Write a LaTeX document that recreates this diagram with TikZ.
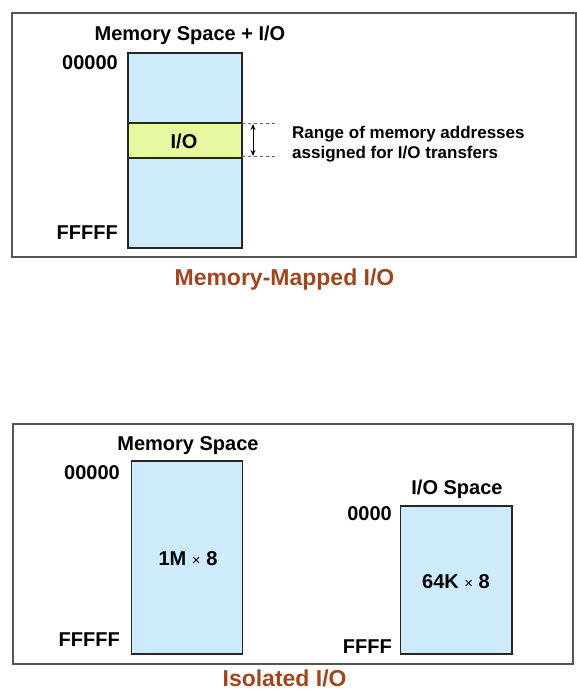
\documentclass[tikz,border=0pt]{standalone}
\usepackage{fontspec}
\setmainfont{Liberation Sans}
\usetikzlibrary{arrows.meta}
\definecolor{membg}{HTML}{CDEBFB}
\definecolor{iobg}{HTML}{E6F9A0}
\definecolor{capc}{HTML}{A0461E}
\definecolor{framec}{HTML}{555555}
\begin{document}
\begin{tikzpicture}[x=1pt,y=-1pt,
  framebox/.style={draw=framec, line width=1.4pt, inner sep=0, outer sep=0},
  bar/.style={draw=black!85, line width=1.5pt, fill=membg, inner sep=0, outer sep=0},
  ioband/.style={draw=black!85, line width=1.5pt, fill=iobg, inner sep=0, outer sep=0},
  lbl/.style={font=\bfseries\fontsize{20}{22}\selectfont, inner sep=0},
  note/.style={font=\bfseries\fontsize{17}{20}\selectfont, inner sep=0, anchor=base west},
  captext/.style={font=\bfseries\fontsize{23}{26}\selectfont, text=capc, inner sep=0, anchor=base},
  guide/.style={draw=black!60, line width=0.7pt, dash pattern=on 3pt off 3pt},
  span/.style={draw=black, line width=1pt, {Stealth[length=6pt,width=5pt]}-{Stealth[length=6pt,width=5pt]}}
]
\useasboundingbox (0,0) rectangle (577,690);

% ---------- Memory-mapped I/O ----------
\node[framebox, minimum width=564pt, minimum height=244pt] (f1) at (294,135) {};
\node[bar, minimum width=114pt, minimum height=195pt] (mem1) at (185,150.5) {};
\node[ioband, minimum width=114pt, minimum height=35pt] (iob) at (185,140.5) {};
\node[lbl, anchor=base] (t1) at (190,41) {Memory Space + I/O};
\node[lbl, anchor=base] (iol) at (184,148) {I/O};
\node[lbl, anchor=base east] (a0) at (118,70) {00000};
\node[lbl, anchor=base east] (a1) at (118,239) {FFFFF};
\coordinate (d1) at (276,123);
\coordinate (d2) at (276,156);
\draw[guide] (iob.north east) -- (d1);
\draw[guide] (iob.east |- d2) -- (d2);
\coordinate (ar1) at (253,124);
\coordinate (ar2) at (253,156);
\draw[span] (ar1) -- (ar2);
\node[note] (r1) at (292,138) {Range of memory addresses};
\node[note] (r2) at (292,158) {assigned for I/O transfers};
\node[captext] (c1) at (284.5,285) {Memory-Mapped I/O};

% ---------- Isolated I/O ----------
\node[framebox, minimum width=560pt, minimum height=240pt] (f2) at (293,544) {};
\node[bar, minimum width=111pt, minimum height=193pt] (mem2) at (187.2,557.5) {};
\node[bar, minimum width=111.5pt, minimum height=148pt] (io2) at (456,580) {};
\node[lbl, anchor=base] (t2) at (188,450) {Memory Space};
\node[lbl, anchor=base] (t3) at (457,494) {I/O Space};
\node[lbl, anchor=base east] (b0) at (120,479) {00000};
\node[lbl, anchor=base east] (b1) at (120,646) {FFFFF};
\node[lbl, anchor=base east] (b2) at (392,520) {0000};
\node[lbl, anchor=base east] (b3) at (392,653) {FFFF};
\node[lbl, anchor=base] (s1) at (188,565) {1M {\mdseries\fontsize{15}{18}\selectfont ×} 8};
\node[lbl, anchor=base] (s2) at (456,588) {64K {\mdseries\fontsize{15}{18}\selectfont ×} 8};
\node[captext] (c2) at (284.6,686) {Isolated I/O};
\end{tikzpicture}
\end{document}
